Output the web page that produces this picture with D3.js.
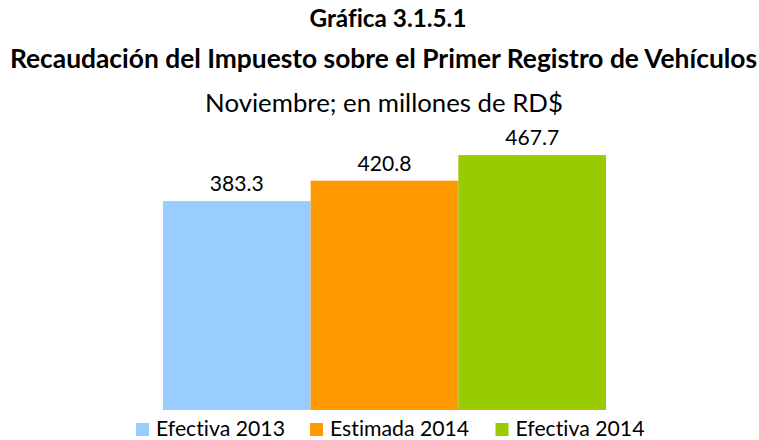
<!DOCTYPE html>
<html><head><meta charset="utf-8">
<script src="https://cdn.jsdelivr.net/npm/d3@7"></script>
<style>body{margin:0;background:#fff}svg{display:block}text{font-family:Lato,"Open Sans",sans-serif;fill:#000;font-variant-ligatures:none;font-feature-settings:"liga" 0,"clig" 0}</style>
</head><body>
<script>
const categories = ["Efectiva 2013", "Estimada 2014", "Efectiva 2014"];
const values = [383.3, 420.8, 467.7];
const colors = ["#99ccff", "#ff9900", "#99cc00"];
const titles = ["Gráfica 3.1.5.1", "Recaudación del Impuesto sobre el Primer Registro de Vehículos", "Noviembre; en millones de RD$"];

const W = 759, H = 440;
const svg = d3.select("body").append("svg").attr("width", W).attr("height", H);

function fit(sel, target) {
  const n = sel.node();
  const fs = parseFloat(sel.attr("font-size"));
  const w = n.getComputedTextLength();
  sel.attr("font-size", (fs * target / w).toFixed(2));
}

// titles
const tSpec = [{y: 27, w: 157, bold: true, cx: 388}, {y: 68, w: 747, bold: true, cx: 383.5}, {y: 112, w: 358, bold: false, cx: 384}];
titles.forEach((t, i) => {
  const s = svg.append("text").attr("x", tSpec[i].cx).attr("y", tSpec[i].y)
    .attr("text-anchor", "middle").attr("font-size", 20)
    .attr("font-weight", tSpec[i].bold ? "bold" : "normal").text(t);
  fit(s, tSpec[i].w);
});

const x = d3.scaleBand().domain(categories).range([163, 606]).paddingInner(0).paddingOuter(0);
const y = d3.scaleLinear().domain([0, 500]).range([410, 137.5]);

svg.selectAll("rect.bar").data(values).join("rect").attr("class", "bar")
  .attr("x", (d, i) => x(categories[i]))
  .attr("width", x.bandwidth())
  .attr("y", d => y(d))
  .attr("height", d => y(0) - y(d))
  .attr("fill", (d, i) => colors[i]);

const labels = svg.selectAll("text.lbl").data(values).join("text").attr("class", "lbl")
  .attr("x", (d, i) => x(categories[i]) + x.bandwidth() / 2)
  .attr("y", d => y(d) - 10)
  .attr("text-anchor", "middle").attr("font-size", 20)
  .text(d => d3.format(".1f")(d));
fit(labels.filter((d, i) => i === 0), 54);
const lfs = labels.filter((d, i) => i === 0).attr("font-size");
labels.attr("font-size", lfs);

// legend
const legX = [136, 310, 495.5];
const leg = svg.selectAll("g.leg").data(categories).join("g").attr("class", "leg")
  .attr("transform", (d, i) => `translate(${legX[i]},0)`);
leg.append("rect").attr("x", 0).attr("y", 423).attr("width", 13).attr("height", 13)
  .attr("fill", (d, i) => colors[i]);
const lt = leg.append("text").attr("x", 20).attr("y", 436).attr("font-size", 18).text(d => d);
fit(lt.filter((d, i) => i === 0), 129);
lt.attr("font-size", lt.filter((d, i) => i === 0).attr("font-size"));
</script>
</body></html>
